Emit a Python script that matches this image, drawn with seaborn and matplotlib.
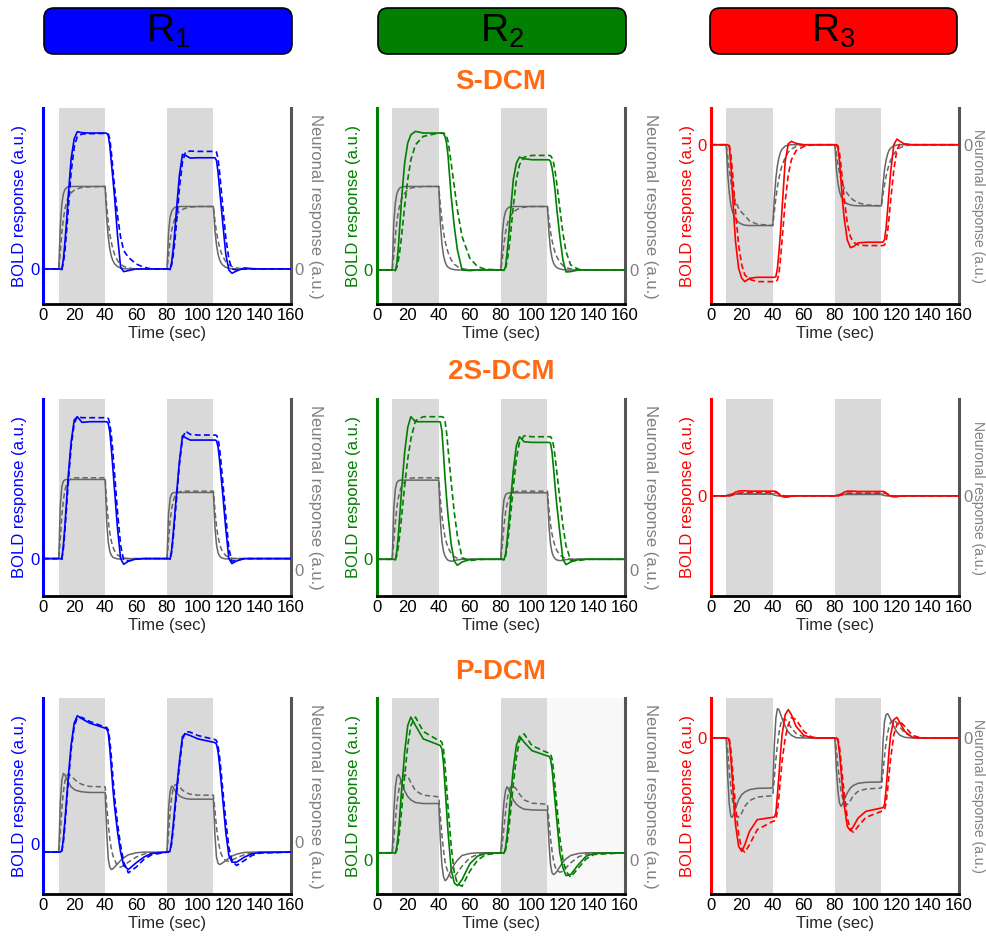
import matplotlib
matplotlib.use("Agg")
import matplotlib.pyplot as plt
import seaborn as sns
from matplotlib.patches import FancyBboxPatch

# ------------------------------------------------------------
# Data (a.u.; 0 = baseline)
# ------------------------------------------------------------
time_s = [0,
          10, 11, 12, 13, 14, 15, 16, 18, 20, 22, 25, 30, 40, 41, 42, 43, 44, 45, 46, 48, 50, 52, 55, 60, 65, 70,
          80, 81, 82, 83, 84, 85, 86, 88, 90, 92, 95, 100, 110, 111, 112, 113, 114, 115, 116, 118, 120, 122, 125,
          130, 135, 140,
          160]
stim_blocks = [(10, 40), (80, 110)]

# S-DCM
sdcm_r1_bold = [0, 0, -2, 30, 80, 140, 210, 330, 390, 411, 408, 407, 407, 406, 400, 370, 320, 270, 220, 100, 5, -8, -5, 0, 0, 0,
                0, 0, -2, 20, 60, 110, 170, 280, 343, 340, 332, 333, 333, 333, 325, 290, 240, 190, 140, 45, -3, -13, -6, 3, 1, 0]
sdcm_r1_bold_dash = [0, 0, -1, 18, 55, 110, 170, 290, 365, 397, 404, 405, 406, 406, 404, 390, 350, 300, 250, 160, 95, 55, 35, 15, 5, 0,
                     0, 0, -1, 12, 40, 80, 130, 240, 320, 350, 353, 352, 352, 352, 350, 330, 290, 240, 190, 95, 30, 0, -3, 0, 0, 0]
sdcm_r1_neur = [0, 130, 195, 225, 238, 243, 246, 247, 247, 247, 247, 247, 247, 150, 95, 60, 38, 25, 16, 7, 3, 1, 0, 0, 0, 0,
                0, 110, 155, 172, 180, 184, 186, 187, 187, 187, 187, 187, 187, 115, 72, 45, 28, 18, 12, 5, 2, 0, 0, 0, 0, 0]
sdcm_r1_neur_dash = [0, 50, 110, 150, 180, 200, 213, 228, 236, 240, 244, 246, 247, 190, 140, 105, 80, 60, 45, 25, 14, 8, 3, 0, 0, 0,
                     0, 40, 85, 115, 135, 150, 160, 172, 178, 182, 185, 187, 187, 145, 110, 85, 65, 50, 38, 22, 12, 7, 3, 0, 0, 0]

sdcm_r2_bold = [0, 0, -2, 20, 70, 140, 210, 320, 380, 405, 415, 410, 410, 410, 410, 408, 400, 380, 340, 220, 130, 60, 0, -2, 0, 0,
                0, 0, -2, 10, 50, 100, 160, 270, 320, 338, 333, 330, 330, 330, 325, 305, 275, 235, 185, 100, 30, -6, -5, 0, 0, 0]
sdcm_r2_bold_dash = [0, 0, -1, 8, 30, 60, 100, 190, 270, 330, 375, 400, 410, 410, 410, 410, 408, 400, 385, 320, 250, 180, 100, 35, 10, 2,
                     0, 0, -1, 5, 25, 55, 95, 190, 270, 315, 338, 343, 343, 343, 342, 335, 320, 295, 260, 185, 110, 55, 15, 2, 0, 0]
sdcm_r2_neur = [0, 140, 200, 228, 240, 246, 248, 250, 250, 250, 250, 250, 250, 140, 80, 45, 25, 14, 8, 3, 1, 0, 0, 0, 0, 0,
                0, 110, 155, 175, 183, 187, 189, 190, 190, 190, 190, 190, 190, 110, 62, 35, 20, 12, 7, 3, 1, 0, 0, 0, 0, 0]
sdcm_r2_neur_dash = [0, 45, 100, 145, 175, 197, 212, 230, 240, 245, 248, 250, 250, 195, 150, 115, 88, 68, 52, 30, 17, 10, 4, 0, 0, 0,
                     0, 35, 80, 112, 135, 150, 160, 173, 180, 185, 188, 190, 190, 150, 115, 88, 68, 52, 40, 23, 13, 7, 3, 0, 0, 0]

sdcm_r3_bold = [0, 0, -5, -60, -140, -220, -290, -370, -400, -410, -400, -397, -397, -397, -395, -370, -320, -260, -190, -50, 3, 10, 4, 0, 0, 0,
                0, 0, -10, -50, -110, -170, -220, -285, -308, -305, -294, -292, -292, -292, -285, -250, -195, -135, -80, 0, 17, 10, 2, 0, 0, 0]
sdcm_r3_bold_dash = [0, 0, -2, -30, -80, -140, -200, -300, -360, -390, -403, -410, -410, -410, -410, -405, -385, -340, -285, -170, -90, -45, -18, -5, -1, 0,
                     0, 0, -3, -25, -65, -115, -160, -235, -275, -292, -300, -302, -302, -302, -300, -290, -260, -215, -165, -75, -15, 3, 2, 0, 0, 0]
sdcm_r3_neur = [0, -90, -145, -180, -200, -212, -222, -233, -238, -241, -242, -242, -242, -160, -100, -62, -38, -22, -13, -4, -1, 0, 0, 0, 0, 0,
                0, -75, -115, -140, -155, -163, -170, -177, -180, -182, -183, -183, -183, -120, -75, -46, -28, -16, -10, -3, -1, 0, 0, 0, 0, 0]
sdcm_r3_neur_dash = [0, -35, -75, -110, -135, -155, -170, -190, -203, -212, -228, -238, -242, -200, -160, -125, -100, -78, -62, -38, -22, -13, -5, -1, 0, 0,
                     0, -28, -60, -85, -105, -118, -130, -146, -158, -166, -174, -180, -183, -150, -120, -95, -75, -58, -46, -28, -16, -9, -3, 0, 0, 0]

# 2S-DCM
s2dcm_r1_bold = [0, 0, -2, 40, 100, 170, 240, 350, 415, 425, 408, 410, 410, 410, 405, 380, 330, 270, 210, 90, 0, -17, -8, -1, 0, 0,
                 0, 0, -2, 25, 75, 130, 185, 290, 368, 362, 355, 355, 355, 355, 353, 335, 295, 245, 195, 90, 0, -15, -7, 0, 0, 0]
s2dcm_r1_bold_dash = [0, 0, -1, 30, 85, 150, 220, 335, 405, 425, 422, 422, 422, 422, 420, 405, 370, 320, 260, 140, 40, -5, -7, -2, 0, 0,
                      0, 0, -1, 18, 60, 115, 170, 280, 360, 382, 372, 370, 370, 370, 369, 360, 330, 285, 235, 130, 30, -8, -5, 0, 0, 0]
s2dcm_r1_neur = [0, 160, 215, 232, 236, 237, 237, 237, 237, 237, 237, 237, 237, 110, 50, 22, 10, 4, 2, -1, -1, 0, 0, 0, 0, 0,
                 0, 135, 180, 194, 197, 198, 198, 198, 198, 198, 198, 198, 198, 95, 42, 18, 8, 3, 1, -1, 0, 0, 0, 0, 0, 0]
s2dcm_r1_neur_dash = [0, 60, 130, 175, 205, 222, 232, 240, 242, 242, 242, 242, 242, 170, 115, 78, 52, 35, 24, 11, 5, 2, 0, 0, 0, 0,
                      0, 55, 112, 150, 172, 186, 194, 200, 202, 202, 202, 202, 202, 145, 98, 66, 45, 30, 20, 9, 4, 1, 0, 0, 0, 0]

s2dcm_r2_bold = [0, 0, -2, 25, 75, 140, 205, 320, 395, 427, 412, 412, 412, 411, 385, 320, 245, 185, 130, 45, -6, -18, -8, -1, 0, 0,
                 0, 0, -2, 15, 55, 105, 160, 265, 340, 367, 352, 350, 350, 350, 348, 320, 270, 215, 165, 80, 0, -16, -8, -1, 0, 0]
s2dcm_r2_bold_dash = [0, 0, -1, 12, 40, 80, 125, 220, 300, 360, 415, 427, 427, 427, 427, 425, 415, 380, 330, 230, 140, 70, 5, -4, -1, 0,
                      0, 0, -1, 8, 35, 75, 120, 215, 300, 350, 370, 367, 367, 367, 367, 360, 340, 305, 265, 180, 100, 40, -3, -4, 0, 0]
s2dcm_r2_neur = [0, 150, 210, 230, 235, 237, 237, 237, 237, 237, 237, 237, 237, 115, 55, 25, 10, 2, -3, -6, -4, -2, 0, 0, 0, 0,
                 0, 130, 178, 193, 197, 199, 199, 199, 199, 199, 199, 199, 199, 100, 45, 20, 8, 2, -2, -4, -3, -1, 0, 0, 0, 0]
s2dcm_r2_neur_dash = [0, 50, 110, 155, 185, 205, 218, 232, 240, 243, 244, 244, 244, 180, 130, 95, 68, 48, 35, 17, 8, 3, 0, 0, 0, 0,
                      0, 45, 100, 140, 165, 180, 190, 200, 203, 204, 204, 204, 204, 150, 105, 75, 55, 38, 27, 13, 6, 2, 0, 0, 0, 0]

s2dcm_r3_bold = [0, 0, 0, 2, 5, 8, 11, 14, 15, 15, 14, 14, 14, 14, 13, 10, 5, 1, -2, -4, -3, -1, 0, 0, 0, 0,
                 0, 0, 0, 2, 5, 8, 11, 14, 14, 14, 13, 13, 13, 13, 12, 9, 5, 1, -1, -3, -2, -1, 0, 0, 0, 0]
s2dcm_r3_bold_dash = [0, 0, 0, 1, 2, 4, 6, 8, 9, 9, 9, 9, 9, 9, 9, 8, 6, 4, 2, -1, -2, -1, 0, 0, 0, 0,
                      0, 0, 0, 1, 2, 4, 6, 8, 8, 8, 8, 8, 8, 8, 8, 7, 5, 3, 1, -1, -2, -1, 0, 0, 0, 0]
s2dcm_r3_neur = [0, 3, 4, 5, 5, 5, 5, 5, 5, 5, 5, 5, 5, 2, 1, 0, 0, 0, 0, 0, 0, 0, 0, 0, 0, 0,
                 0, 2, 3, 4, 4, 4, 4, 4, 4, 4, 4, 4, 4, 2, 1, 0, 0, 0, 0, 0, 0, 0, 0, 0, 0, 0]
s2dcm_r3_neur_dash = [0, 1, 2, 3, 4, 5, 5, 6, 6, 6, 6, 6, 6, 4, 3, 2, 1, 1, 0, 0, 0, 0, 0, 0, 0, 0,
                      0, 1, 2, 3, 4, 4, 5, 5, 5, 5, 5, 5, 5, 4, 3, 2, 1, 1, 0, 0, 0, 0, 0, 0, 0, 0]

# P-DCM
pdcm_r1_bold = [0, 0, 5, 40, 95, 155, 215, 320, 385, 407, 398, 385, 370, 368, 355, 310, 250, 190, 140, 60, 0, -40, -52, -32, -15, -4,
                0, 0, 5, 35, 80, 130, 180, 270, 345, 353, 348, 338, 328, 327, 322, 300, 260, 210, 160, 60, -10, -30, -30, -15, -5, -1]
pdcm_r1_bold_dash = [0, 0, 3, 30, 80, 140, 200, 305, 375, 402, 402, 390, 373, 372, 365, 335, 285, 225, 170, 85, 20, -30, -62, -45, -22, -8,
                     0, 0, 3, 25, 65, 115, 165, 255, 335, 360, 358, 348, 337, 336, 333, 318, 285, 240, 190, 95, 15, -25, -40, -25, -10, -3]
pdcm_r1_neur = [0, 150, 215, 235, 230, 220, 210, 195, 187, 183, 180, 178, 178, 60, -20, -45, -52, -50, -45, -35, -25, -17, -8, -2, 0, 0,
                0, 130, 180, 197, 193, 185, 178, 168, 163, 160, 158, 158, 158, 50, -15, -33, -37, -35, -32, -25, -18, -12, -6, -1, 0, 0]
pdcm_r1_neur_dash = [0, 60, 130, 180, 212, 228, 233, 228, 218, 210, 202, 196, 195, 140, 85, 40, 10, -10, -22, -42, -45, -40, -30, -15, -6, -2,
                     0, 55, 120, 165, 190, 200, 202, 195, 185, 178, 173, 170, 170, 125, 75, 38, 12, -5, -15, -26, -27, -24, -17, -8, -3, -1]

pdcm_r2_bold = [0, 0, -2, 20, 60, 120, 185, 300, 380, 405, 380, 340, 322, 320, 310, 270, 200, 130, 60, -50, -90, -98, -80, -33, -10, -2,
                0, 0, -2, 15, 50, 100, 155, 250, 320, 348, 330, 305, 289, 288, 280, 250, 200, 150, 100, 0, -45, -68, -65, -35, -10, -2]
pdcm_r2_bold_dash = [0, 0, -1, 8, 35, 75, 125, 230, 320, 380, 405, 362, 335, 334, 330, 310, 265, 200, 135, 20, -60, -92, -100, -55, -22, -6,
                     0, 0, -1, 8, 30, 65, 110, 205, 285, 335, 355, 320, 299, 298, 296, 280, 245, 195, 145, 45, -20, -55, -73, -45, -18, -5]
pdcm_r2_neur = [0, 120, 195, 228, 234, 225, 210, 185, 168, 158, 150, 147, 147, 40, -35, -70, -83, -80, -72, -52, -35, -22, -8, -2, 0, 0,
                0, 90, 150, 185, 197, 190, 178, 158, 145, 137, 130, 128, 127, 30, -35, -60, -65, -62, -56, -42, -28, -18, -8, -2, 0, 0]
pdcm_r2_neur_dash = [0, 40, 95, 145, 180, 205, 220, 234, 228, 210, 185, 172, 167, 110, 55, 10, -25, -45, -58, -75, -72, -60, -40, -15, -5, -1,
                     0, 30, 75, 120, 155, 180, 195, 200, 190, 175, 158, 148, 145, 95, 45, 5, -25, -42, -52, -58, -55, -45, -30, -12, -4, -1]

pdcm_r3_bold = [0, 0, -10, -60, -130, -200, -260, -325, -340, -320, -280, -245, -238, -237, -225, -170, -110, -45, 10, 70, 85, 70, 35, 8, 1, 0,
                0, 0, -8, -45, -100, -155, -200, -265, -278, -265, -240, -220, -210, -209, -200, -155, -95, -35, 10, 55, 62, 45, 20, 2, 0, 0]
pdcm_r3_bold_dash = [0, 0, -4, -35, -90, -150, -205, -290, -333, -343, -320, -275, -250, -249, -245, -220, -175, -120, -70, 0, 40, 62, 55, 20, 3, 0,
                     0, 0, -3, -28, -70, -120, -165, -240, -275, -283, -265, -238, -220, -219, -215, -195, -155, -105, -60, 10, 40, 50, 35, 8, 1, 0]
pdcm_r3_neur = [0, -120, -200, -235, -238, -225, -210, -185, -170, -162, -155, -151, -150, -20, 60, 88, 85, 72, 58, 35, 18, 8, 1, 0, 0, 0,
                0, -95, -160, -195, -205, -198, -185, -165, -150, -142, -136, -133, -132, -15, 50, 70, 73, 65, 55, 35, 18, 8, 2, 0, 0, 0]
pdcm_r3_neur_dash = [0, -40, -100, -150, -185, -210, -230, -238, -225, -205, -188, -177, -173, -120, -65, -20, 15, 40, 57, 57, 45, 30, 14, 3, 0, 0,
                     0, -35, -85, -125, -160, -180, -195, -200, -188, -172, -160, -153, -150, -105, -55, -15, 15, 35, 48, 55, 45, 32, 15, 3, 0, 0]

model_names = ["S-DCM", "2S-DCM", "P-DCM"]
region_names = ["R$_1$", "R$_2$", "R$_3$"]

curves = [
    [(sdcm_r1_bold, sdcm_r1_bold_dash, sdcm_r1_neur, sdcm_r1_neur_dash),
     (sdcm_r2_bold, sdcm_r2_bold_dash, sdcm_r2_neur, sdcm_r2_neur_dash),
     (sdcm_r3_bold, sdcm_r3_bold_dash, sdcm_r3_neur, sdcm_r3_neur_dash)],
    [(s2dcm_r1_bold, s2dcm_r1_bold_dash, s2dcm_r1_neur, s2dcm_r1_neur_dash),
     (s2dcm_r2_bold, s2dcm_r2_bold_dash, s2dcm_r2_neur, s2dcm_r2_neur_dash),
     (s2dcm_r3_bold, s2dcm_r3_bold_dash, s2dcm_r3_neur, s2dcm_r3_neur_dash)],
    [(pdcm_r1_bold, pdcm_r1_bold_dash, pdcm_r1_neur, pdcm_r1_neur_dash),
     (pdcm_r2_bold, pdcm_r2_bold_dash, pdcm_r2_neur, pdcm_r2_neur_dash),
     (pdcm_r3_bold, pdcm_r3_bold_dash, pdcm_r3_neur, pdcm_r3_neur_dash)],
]

# ------------------------------------------------------------
# Layout / style
# ------------------------------------------------------------
region_colors = ["#0000ff", "#007f00", "#ff0000"]
grey = "#666666"
label_grey = "#808080"
orange = "#ff6a13"

ylims = [[(-105, 482), (-102, 485), (-477, 110)],
         [(-112, 478), (-110, 480), (-300, 290)],
         [(-125, 460), (-123, 462), (-468, 120)]]
zero_left = [[0, 0, 0], [0, 0, 0], [25, -21, 0]]
zero_right = [[0, 0, 0], [-35, -33, 0], [30, -21, 0]]

W, H = 987, 939
col_x = [(43.3, 290.7), (376.7, 625.0), (710.7, 959.0)]
row_y = [(108, 304), (399, 596), (698, 894)]
box_x = [(44, 292), (378, 626), (710, 957)]
title_y = [82, 372, 672]

sns.set_style("white")
plt.rcParams["font.family"] = ["Liberation Sans", "DejaVu Sans"]
plt.rcParams["mathtext.fontset"] = "custom"
plt.rcParams["mathtext.rm"] = "Liberation Sans"
plt.rcParams["mathtext.it"] = "Liberation Sans:italic"

fig = plt.figure(figsize=(W / 100, H / 100), dpi=100)


def full(vals):
    return [0] + list(vals) + [0]


for r in range(3):
    for c in range(3):
        x0, x1 = col_x[c]
        y0, y1 = row_y[r]
        col = region_colors[c]
        ax = fig.add_axes([x0 / W, 1 - y1 / H, (x1 - x0) / W, (y1 - y0) / H])
        tw = ax.twinx()
        ax.set_zorder(tw.get_zorder() + 1)
        ax.patch.set_visible(False)

        for a, b in stim_blocks:
            tw.axvspan(a, b, color="#d9d9d9", lw=0, zorder=0)
        if (r, c) == (2, 1):
            tw.axvspan(110, 160, color="#f8f8f8", lw=0, zorder=0)

        bold, bold_d, neur, neur_d = curves[r][c]
        sns.lineplot(x=time_s, y=full(neur), ax=tw, color=grey, lw=1.1, legend=False)
        sns.lineplot(x=time_s, y=full(neur_d), ax=tw, color=grey, lw=1.1,
                     linestyle=(0, (3.5, 2)), legend=False)
        sns.lineplot(x=time_s, y=full(bold), ax=ax, color=col, lw=1.2, legend=False)
        sns.lineplot(x=time_s, y=full(bold_d), ax=ax, color=col, lw=1.2,
                     linestyle=(0, (3.5, 2)), legend=False)

        ax.set_xlim(0, 160)
        ax.set_ylim(*ylims[r][c])
        tw.set_ylim(*ylims[r][c])

        for s in ["top", "right"]:
            ax.spines[s].set_visible(False)
        ax.spines["left"].set_color(col)
        ax.spines["left"].set_linewidth(2.2)
        ax.spines["bottom"].set_color("black")
        ax.spines["bottom"].set_linewidth(2.0)
        for s in ["top", "left", "bottom"]:
            tw.spines[s].set_visible(False)
        tw.spines["right"].set_color("#555555")
        tw.spines["right"].set_linewidth(2.2)

        ax.set_xticks(range(0, 161, 20))
        ax.tick_params(axis="x", direction="in", length=4, width=1.2,
                       labelsize=12, pad=3, colors="black")
        ax.set_yticks([zero_left[r][c]])
        ax.set_yticklabels(["0"])
        ax.tick_params(axis="y", length=0, labelsize=12, pad=3, colors=col)
        tw.set_yticks([zero_right[r][c]])
        tw.set_yticklabels(["0"])
        tw.tick_params(axis="y", length=0, labelsize=12, pad=3, colors=label_grey)

        ax.set_xlabel("Time (sec)", fontsize=12, labelpad=2)
        ax.set_ylabel("BOLD response (a.u.)", color=col, fontsize=12, labelpad=2)
        if c < 2:
            tw.set_ylabel("Neuronal response (a.u.)", color=label_grey, fontsize=12,
                          rotation=-90, va="bottom", labelpad=3)
        else:
            # last column sits at the figure edge: keep the label inside
            tw.set_ylabel("Neuronal response (a.u.)", color=label_grey, fontsize=10,
                          rotation=-90, va="bottom")
            tw.yaxis.set_label_coords((971 - x0) / (x1 - x0), 0.5)

# region headers
for c in range(3):
    x0, x1 = box_x[c]
    box = FancyBboxPatch((x0 / 100, (H - 54) / 100), (x1 - x0) / 100, 46 / 100,
                         boxstyle="round,pad=0,rounding_size=0.1",
                         transform=fig.dpi_scale_trans,
                         facecolor=region_colors[c], edgecolor="black", lw=1.2)
    fig.add_artist(box)
    fig.text((x0 + x1) / 2 / W, 1 - 31 / H, region_names[c], ha="center", va="center",
             fontsize=28, color="black")

# model titles
for r in range(3):
    cx = (col_x[1][0] + col_x[1][1]) / 2
    fig.text(cx / W, 1 - title_y[r] / H, model_names[r], ha="center", va="center",
             fontsize=20, fontweight="bold", color=orange)

fig.savefig("out.png", dpi=100)
